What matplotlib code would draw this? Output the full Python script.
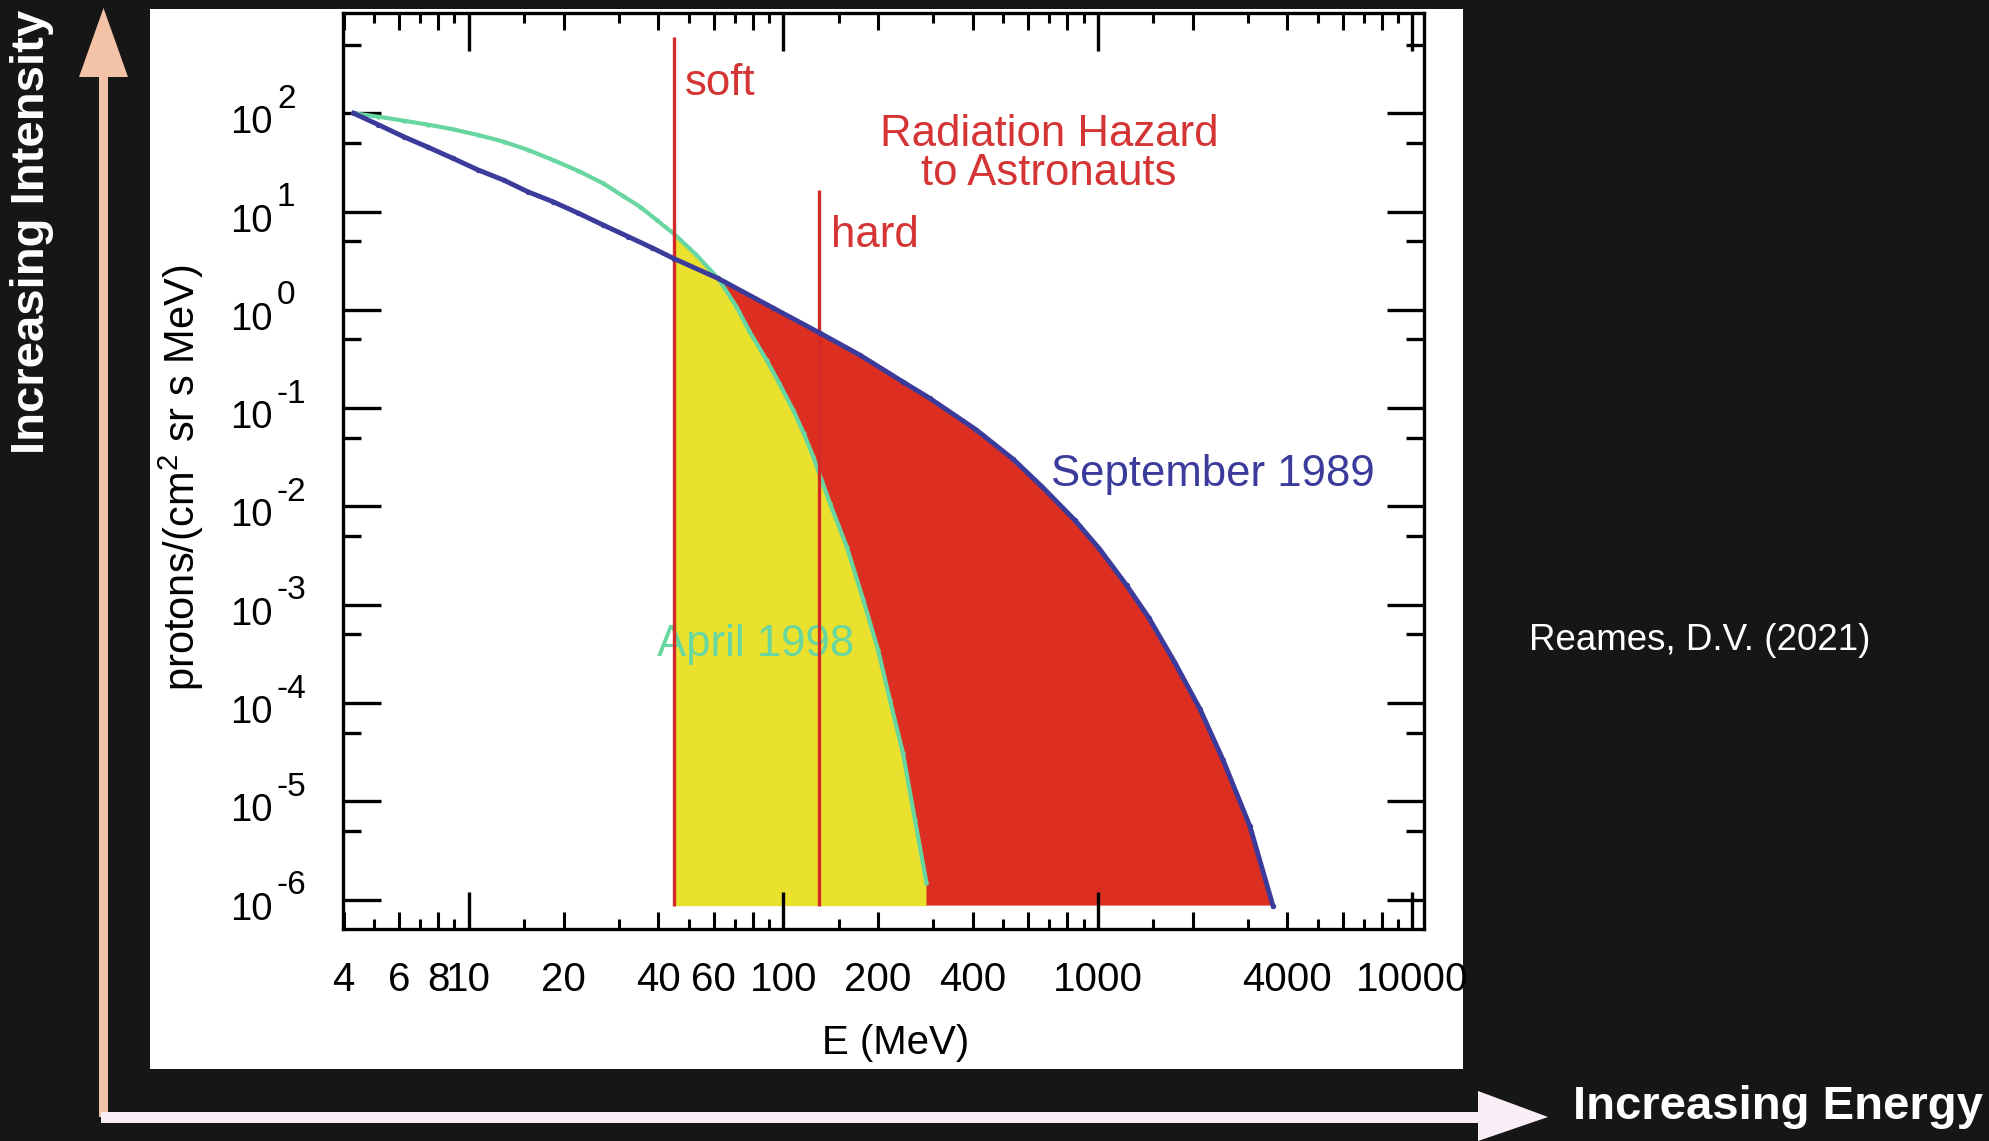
import numpy as np
import matplotlib
matplotlib.use('Agg')
import matplotlib.pyplot as plt
from matplotlib.patches import Polygon, Rectangle
from matplotlib.ticker import FixedLocator, NullLocator, FuncFormatter

plt.rcParams['font.family'] = ['Liberation Sans', 'DejaVu Sans']
plt.rcParams['mathtext.fontset'] = 'custom'
plt.rcParams['mathtext.rm'] = 'Liberation Sans'
plt.rcParams['mathtext.it'] = 'Liberation Sans:italic'

# September 1989 spectrum (blue), MeV / protons per (cm2 sr s MeV)
sep_E = np.array([4.3, 5.15, 6.2, 7.42, 8.9, 10.7, 12.9, 15.4, 18.5, 22.3, 26.7, 32.1, 38.1,
                  45, 62, 93, 131, 175, 240, 292, 410, 538, 660, 845, 1010, 1233, 1450,
                  1750, 2110, 2500, 3040, 3600])
sep_flux = np.array([100, 76.6, 57.8, 45.1, 34.8, 26.5, 20.9, 15.9, 12.6, 9.62, 7.31, 5.56, 4.30,
                     3.31, 2.09, 1.04, 0.578, 0.347, 0.185, 0.126, 0.0603, 0.0302, 0.0162,
                     7.24e-3, 3.72e-3, 1.58e-3, 7.41e-4, 2.63e-4, 8.71e-5, 2.63e-5, 5.62e-6, 8.7e-7])

# April 1998 spectrum (green)
apr_E = np.array([4.3, 5.15, 6.2, 7.42, 8.9, 10.7, 12.9, 15.4, 18.5, 22.3, 26.7, 30.9, 35,
                  39.5, 45, 52.9, 62, 70.9, 78, 88.4, 97, 107.4, 116, 124.4, 140.6, 159,
                  179.5, 200, 218, 240, 262, 285])
apr_flux = np.array([100, 92.3, 84.1, 76.6, 68.7, 60.1, 51.4, 42.4, 33.5, 25.9, 19.4, 14.4, 11.2,
                     8.22, 5.89, 3.62, 2.09, 1.08, 0.603, 0.309, 0.179, 0.0959, 0.0556, 0.0321,
                     0.0108, 3.89e-3, 1.12e-3, 3.47e-4, 1.08e-4, 3.08e-5, 6.46e-6, 1.48e-6])

SOFT_E, SOFT_TOP = 45, 600
HARD_E, HARD_TOP = 130, 16.6
CROSS_E = 62          # where the two spectra meet
FILL_BOTTOM = 8.7e-7

x_major = [10, 100, 1000, 10000]
x_even = [4, 6, 8, 20, 40, 60, 80, 200, 400, 600, 800, 2000, 4000, 6000, 8000]
x_odd = [5, 7, 9, 15, 30, 50, 70, 90, 150, 300, 500, 700, 900, 1500, 3000, 5000, 7000, 9000]
x_labeled = [4, 6, 8, 10, 20, 40, 60, 100, 200, 400, 1000, 4000, 10000]
y_exps = [2, 1, 0, -1, -2, -3, -4, -5, -6]

BLUE = '#3b3b9c'
GREEN = '#68d6a0'
YELLOW = '#e9e12e'
RED_FILL = '#dc2f22'
RED_LINE = '#d22a28'
RED_TEXT = '#d43434'

W, H = 1990, 1141


def fxy(px, py):
    # pixel position (from top-left) -> figure fraction
    return (px / W, 1 - py / H)


fig = plt.figure(figsize=(W / 100, H / 100), dpi=100, facecolor='#161616')

# white panel behind the plot
fig.add_artist(Rectangle(fxy(150, 1069), 1313 / W, 1060 / H, transform=fig.transFigure,
                         facecolor='white', edgecolor='none', zorder=0))

# peach vertical arrow
fig.add_artist(Polygon([fxy(99, 1117), fxy(108, 1117), fxy(108, 77), fxy(128, 77),
                        fxy(103.5, 8), fxy(79, 77), fxy(99, 77)],
                       closed=True, transform=fig.transFigure, facecolor='#f4c2a6',
                       edgecolor='none', zorder=1))
# pale horizontal arrow
fig.add_artist(Polygon([fxy(101, 1112), fxy(1478, 1112), fxy(1478, 1091), fxy(1548, 1117),
                        fxy(1478, 1141), fxy(1478, 1123), fxy(101, 1123)],
                       closed=True, transform=fig.transFigure, facecolor='#f9eef6',
                       edgecolor='none', zorder=1))

fig.text(32 / W, 1 - 232 / H, 'Increasing Intensity', rotation=90, ha='center', va='center',
         color='white', fontsize=34, fontweight='bold')
fig.text(1983 / W, 1 - 1107 / H, 'Increasing Energy', ha='right', va='center',
         color='white', fontsize=34, fontweight='bold')
fig.text(1700 / W, 1 - 640 / H, 'Reames, D.V. (2021)', ha='center', va='center',
         color='white', fontsize=26.5)

ax = fig.add_axes([343 / W, 1 - 929 / H, (1424 - 343) / W, (929 - 13) / H])
ax.set_xscale('log')
ax.set_yscale('log')

# yellow: soft spectrum above the soft threshold
sel = apr_E >= SOFT_E
ax.fill_between(apr_E[sel], FILL_BOTTOM, apr_flux[sel], color=YELLOW, lw=0, zorder=1)

# red: extra hard spectrum of Sept 1989
b = sep_E >= CROSS_E
g = apr_E >= CROSS_E
red_x = np.concatenate([sep_E[b], [apr_E[-1]], apr_E[g][::-1]])
red_y = np.concatenate([sep_flux[b], [FILL_BOTTOM], apr_flux[g][::-1]])
ax.fill(red_x, red_y, color=RED_FILL, lw=0, zorder=1.5)

ax.plot(apr_E, apr_flux, color=GREEN, lw=3, marker='o', ms=2.2, zorder=3)
ax.vlines([SOFT_E], FILL_BOTTOM, SOFT_TOP, color=RED_LINE, lw=2.4, zorder=3.5)
ax.vlines([HARD_E], FILL_BOTTOM, HARD_TOP, color=RED_LINE, lw=2.4, zorder=3.5)
ax.plot(sep_E, sep_flux, color=BLUE, lw=3.5, marker='o', ms=2.8, zorder=4)

ax.text(48.6, 200, 'soft', color=RED_TEXT, fontsize=31.5, va='center', ha='left')
ax.text(141.6, 5.7, 'hard', color=RED_TEXT, fontsize=31.5, va='center', ha='left')
ax.text(698, 38.5, 'Radiation Hazard\nto Astronauts', color=RED_TEXT, fontsize=31.5,
        va='center', ha='center', multialignment='center', linespacing=0.95)
ax.text(709, 0.021, 'September 1989', color=BLUE, fontsize=31.5, va='center', ha='left')
ax.text(39.6, 3.9e-4, 'April 1998', color=GREEN, fontsize=31.5, va='center', ha='left')

ax.set_xlim(3.98, 10880)
ax.set_ylim(5.03e-7, 1047)

# odd sub-ticks on a twin axis (shortest ticks)
ax2 = ax.twiny()
ax2.set_xscale('log')
ax2.set_xlim(ax.get_xlim())
ax2.xaxis.set_major_locator(FixedLocator(x_odd))
ax2.xaxis.set_minor_locator(NullLocator())
ax2.tick_params(axis='x', which='major', direction='in', length=7, width=2.2,
                top=True, bottom=True, labeltop=False, labelbottom=False)
for s in ax2.spines.values():
    s.set_visible(False)

ax.xaxis.set_major_locator(FixedLocator(x_major))
ax.xaxis.set_minor_locator(FixedLocator(x_even))
ax.xaxis.set_major_formatter(FuncFormatter(lambda v, p: '%d' % round(v)))
ax.xaxis.set_minor_formatter(FuncFormatter(
    lambda v, p: '%d' % round(v) if round(v) in x_labeled else ''))
ax.yaxis.set_major_locator(FixedLocator([10.0 ** e for e in y_exps]))
ax.yaxis.set_minor_locator(FixedLocator([5 * 10.0 ** e for e in y_exps]))

ax.tick_params(axis='both', which='major', direction='in', length=27, width=2.4,
               top=True, bottom=True, left=True, right=True)
ax.tick_params(axis='x', which='minor', direction='in', length=12, width=2.2,
               top=True, bottom=True)
ax.tick_params(axis='y', which='minor', direction='in', length=13, width=2.4,
               left=True, right=True)
ax.tick_params(axis='x', which='both', labelsize=29, pad=23)
ax.tick_params(axis='y', which='both', labelleft=False)
for s in ax.spines.values():
    s.set_linewidth(2.4)

# y tick labels drawn as 10 with raised exponent
for e in y_exps:
    ax.annotate('10', xy=(0, 10.0 ** e), xycoords=('axes fraction', 'data'),
                xytext=(-70, -10), textcoords='offset pixels', ha='right', va='center',
                fontsize=27.5)
    ax.annotate('%d' % e, xy=(0, 10.0 ** e), xycoords=('axes fraction', 'data'),
                xytext=(-66, 14), textcoords='offset pixels', ha='left', va='center',
                fontsize=24)

fig.text(896 / W, 1 - 1043 / H, 'E (MeV)', ha='center', va='center', fontsize=29)
fig.text(181 / W, 1 - 478 / H, 'protons/(cm$^2$ sr s MeV)', rotation=90,
         ha='center', va='center', fontsize=30)

fig.savefig('out.png', dpi=100, facecolor=fig.get_facecolor())
